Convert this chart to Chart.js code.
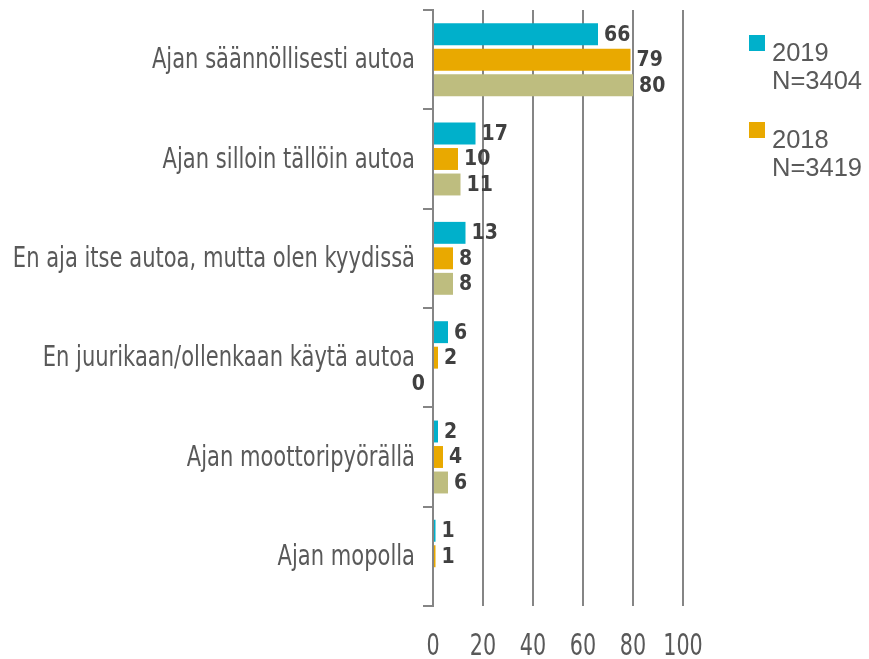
<!DOCTYPE html>
<html>
<head>
<meta charset="utf-8">
<script src="https://cdn.jsdelivr.net/npm/chart.js"></script>
<style>
  html, body { margin: 0; padding: 0; background: #fff; }
  .chart-container { position: relative; width: 869px; height: 659px; }
</style>
</head>
<body>
<div class="chart-container"><canvas id="carChart"></canvas></div>
<script>
// Survey answers, percent of respondents
const categories = [
  'Ajan säännöllisesti autoa',
  'Ajan silloin tällöin autoa',
  'En aja itse autoa, mutta olen kyydissä',
  'En juurikaan/ollenkaan käytä autoa',
  'Ajan moottoripyörällä',
  'Ajan mopolla'
];
const values2019 = [66, 17, 13, 6, 2, 1];
const values2018 = [79, 10, 8, 2, 4, 1];
const values2017 = [80, 11, 8, 0, 6, null];
const xTicks = [0, 20, 40, 60, 80, 100];

// legend rows: [first line, second line]
const legendRows = [
  ['2019', 'N=3404'],
  ['2018', 'N=3419']
];

const TEAL = '#00b0cb';
const ORANGE = '#e9a900';
const OLIVE = '#bebd7f';
const AXIS_GREY = '#858585';
const TEXT_GREY = '#595959';

// text squeezed horizontally (the labels use a condensed look)
function narrowText(ctx, text, x, y, sx) {
  ctx.save();
  ctx.translate(x, y);
  ctx.scale(sx, 1);
  ctx.fillText(text, 0, 0);
  ctx.restore();
}

// category names and x tick labels, placed from the scales
const axisLabels = {
  id: 'axisLabels',
  afterDraw(chart) {
    const ctx = chart.ctx;
    const xs = chart.scales.x, ys = chart.scales.y;
    ctx.save();
    ctx.fillStyle = TEXT_GREY;
    ctx.font = "29px 'DejaVu Sans', sans-serif";
    ctx.textAlign = 'right';
    ctx.textBaseline = 'middle';
    categories.forEach((c, i) => {
      narrowText(ctx, c, ys.right - 18, ys.getPixelForTick(i) + 1, 0.726);
    });
    ctx.font = "30px 'DejaVu Sans', sans-serif";
    ctx.textAlign = 'center';
    ctx.textBaseline = 'alphabetic';
    xTicks.forEach(v => {
      narrowText(ctx, String(v), xs.getPixelForValue(v), 655, 0.69);
    });
    ctx.restore();
  }
};

// value labels at the end of every bar
const barValues = {
  id: 'barValues',
  afterDatasetsDraw(chart) {
    const ctx = chart.ctx;
    ctx.save();
    ctx.font = "bold 21px 'DejaVu Sans', sans-serif";
    ctx.fillStyle = '#404040';
    ctx.textBaseline = 'middle';
    chart.data.datasets.forEach((ds, i) => {
      const meta = chart.getDatasetMeta(i);
      meta.data.forEach((bar, j) => {
        const v = ds.data[j];
        if (v === null || v === undefined) return;
        if (v === 0) {
          ctx.textAlign = 'right';
          narrowText(ctx, String(v), bar.base - 8, bar.y + 1, 0.9);
        } else {
          ctx.textAlign = 'left';
          narrowText(ctx, String(v), bar.x + 6, bar.y + 1, 0.9);
        }
      });
    });
    ctx.restore();
  }
};

// two-line legend on the right, only the first two series
const sideLegend = {
  id: 'sideLegend',
  afterDraw(chart) {
    const ctx = chart.ctx;
    ctx.save();
    ctx.font = "25.5px 'Liberation Sans', sans-serif";
    ctx.textAlign = 'left';
    ctx.textBaseline = 'alphabetic';
    legendRows.forEach((row, i) => {
      const top = 35 + i * 87;
      ctx.fillStyle = chart.data.datasets[i].backgroundColor;
      ctx.fillRect(749, top, 16, 16);
      ctx.fillStyle = TEXT_GREY;
      ctx.fillText(row[0], 772, top + 26);
      ctx.fillText(row[1], 772, top + 54);
    });
    ctx.restore();
  }
};

const ctx = document.getElementById('carChart').getContext('2d');
new Chart(ctx, {
  type: 'bar',
  data: {
    labels: categories,
    datasets: [
      { label: '2019', data: values2019, backgroundColor: TEAL },
      { label: '2018', data: values2018, backgroundColor: ORANGE },
      { label: '2017', data: values2017, backgroundColor: OLIVE }
    ]
  },
  plugins: [axisLabels, barValues, sideLegend],
  options: {
    indexAxis: 'y',
    responsive: true,
    maintainAspectRatio: false,
    animation: false,
    categoryPercentage: 0.77,
    barPercentage: 0.86,
    layout: { padding: { top: 10, right: 186, bottom: 0, left: 0 } },
    plugins: {
      legend: { display: false },
      tooltip: { enabled: false }
    },
    scales: {
      x: {
        min: 0,
        max: 100,
        afterBuildTicks: (scale) => { scale.ticks = xTicks.map(v => ({ value: v })); },
        afterFit: (scale) => { scale.height = 53; },
        grid: { color: AXIS_GREY, lineWidth: 2, drawTicks: false },
        border: { display: false },
        ticks: { display: false, autoSkip: false }
      },
      y: {
        afterFit: (scale) => { scale.width = 433; },
        grid: { color: AXIS_GREY, lineWidth: 2, drawOnChartArea: false, tickLength: 10, offset: true },
        border: { display: true, color: AXIS_GREY, width: 2 },
        ticks: { display: false }
      }
    }
  }
});
</script>
</body>
</html>
